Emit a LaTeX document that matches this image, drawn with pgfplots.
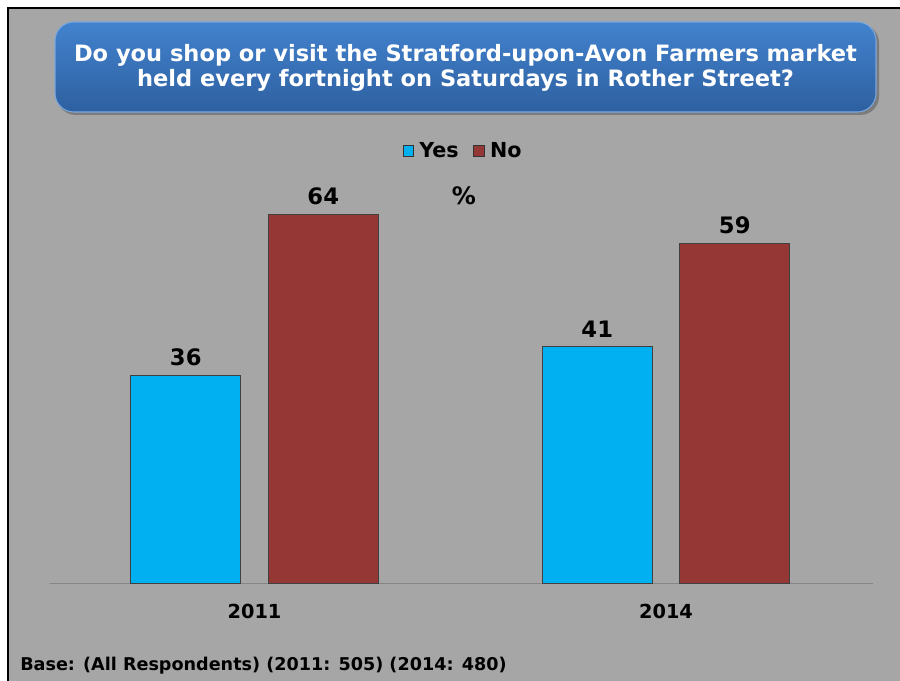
\documentclass[border=0pt]{standalone}
\usepackage{pgfplots}
\pgfplotsset{compat=1.18}
\usepackage{fontspec}
\setmainfont{DejaVu Sans}
\definecolor{bg}{RGB}{166,166,166}
\definecolor{yescol}{RGB}{0,176,240}
\definecolor{nocol}{RGB}{149,55,53}
\definecolor{boxtop}{RGB}{66,130,206}
\definecolor{boxbot}{RGB}{46,96,160}
\definecolor{baseln}{RGB}{134,134,134}
\begin{document}
\begin{tikzpicture}[x=0.75pt,y=0.75pt]
% page
\fill[white] (0,0) rectangle (900,681);
\useasboundingbox (0,0) rectangle (900,681);
\fill[bg] (8,0) rectangle (900,673);
\draw[black,line width=1.5pt] (8,0) -- (8,673) -- (900,673);
% title box
\fill[black,opacity=0.25,rounded corners=14pt] (57,566) rectangle (879,657);
\shade[top color=boxtop,bottom color=boxbot,rounded corners=14pt,draw=boxtop!70!white,line width=0.8pt] (55,569) rectangle (876,659);
\node[white,font=\bfseries\fontsize{16.9}{19}\selectfont,align=center] at (465.5,613) {Do you shop or visit the Stratford-upon-Avon Farmers market\\held every fortnight on Saturdays in Rother Street?};
\begin{axis}[
  anchor=origin, at={(190.875pt,73.5pt)},
  x=308.625pt, y=4.32pt,
  xmin=-0.497, xmax=1.503, ymin=0, ymax=70,
  ybar=20.625pt, bar width=82.5pt,
  axis x line*=bottom, axis y line=none,
  x axis line style={draw=baseln,line width=0.6pt,-},
  xtick={0,1}, xticklabels={\textbf{2011},\textbf{2014}},
  xtick style={draw=none},
  ytick=\empty,
  /pgf/number format/assume math mode=true,
  x tick label style={font=\bfseries\fontsize{14.5}{16}\selectfont,yshift=-8pt},
  nodes near coords,
  every node near coord/.append style={font=\bfseries\fontsize{17}{19}\selectfont,black,yshift=3.5pt},
  legend style={at={(0.5024,1.071)},anchor=center,draw=none,fill=none,
    legend columns=2,font=\bfseries\fontsize{15.5}{17}\selectfont,
    /tikz/every odd column/.append style={column sep=2pt},
    /tikz/every even column/.append style={column sep=9pt}},
  legend image code/.code={\draw[#1,draw=black!80,line width=0.5pt] (0pt,-4pt) rectangle (8pt,4pt);},
  clip=false,
]
\addplot[fill=yescol,draw=black!75,line width=0.5pt] coordinates {(0,36) (1,41)};
\addplot[fill=nocol,draw=black!75,line width=0.5pt] coordinates {(0,64) (1,59)};
\legend{Yes,No}
\end{axis}
\node[font=\bfseries\fontsize{18}{20}\selectfont] at (464,485) {\%};
\node[anchor=west,font=\bfseries\fontsize{13.2}{15}\selectfont,inner sep=0pt] at (20,15) {Base: (All Respondents) (2011: 505) (2014: 480)};
\end{tikzpicture}
\end{document}
